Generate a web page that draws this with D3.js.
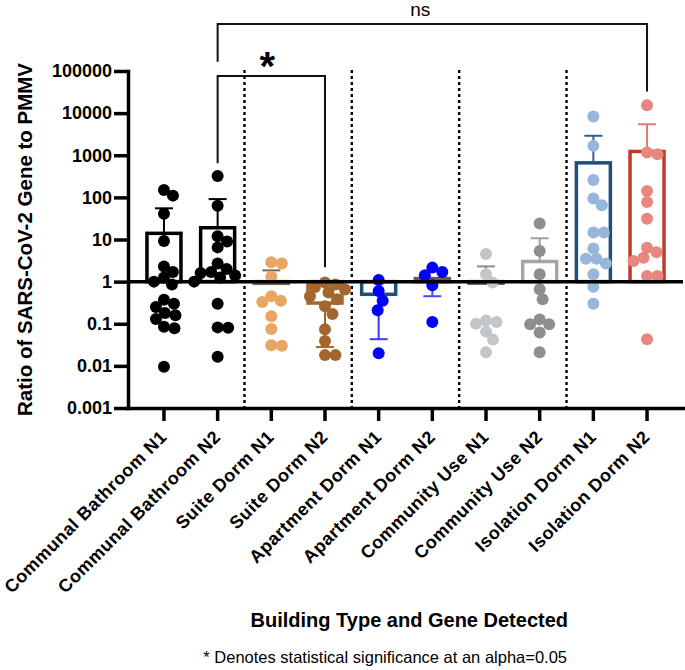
<!DOCTYPE html>
<html><head><meta charset="utf-8">
<script src="https://cdn.jsdelivr.net/npm/d3@7"></script>
<style>body{margin:0;background:#fff}svg{display:block}</style>
</head><body>
<svg id="chart" width="685" height="670"></svg>
<script>
const categories = ["Communal Bathroom N1","Communal Bathroom N2","Suite Dorm N1","Suite Dorm N2","Apartment Dorm N1","Apartment Dorm N2","Community Use N1","Community Use N2","Isolation Dorm N1","Isolation Dorm N2"];

const communalN1 = [150, 110, 41, 9.2, 2.3, 1.7, 1.25, 1.0, 0.85, 0.37, 0.3, 0.25, 0.18, 0.16, 0.13, 0.085, 0.078, 0.0095];
const communalN2 = [320, 63, 12, 9, 6.5, 2.7, 2.0, 1.7, 1.6, 1.4, 1.25, 1.0, 0.3, 0.082, 0.08, 0.0165];
const suiteN1 = [2.9, 2.7, 1.3, 0.45, 0.35, 0.33, 0.15, 0.075, 0.031, 0.03];
const suiteN2 = [0.95, 0.85, 0.75, 0.65, 0.55, 0.45, 0.38, 0.26, 0.17, 0.074, 0.039, 0.018, 0.018];
const apartmentN1 = [1.09, 0.6, 0.35, 0.21, 0.02];
const apartmentN2 = [2.15, 1.69, 1.41, 0.82, 0.11];
const communityN1 = [4.5, 1.5, 0.95, 0.12, 0.11, 0.1, 0.065, 0.042, 0.021];
const communityN2 = [24, 5.3, 1.5, 0.66, 0.38, 0.127, 0.097, 0.097, 0.062, 0.021];
const isolationN1 = [8300, 1670, 260, 94, 65, 14.6, 14.6, 6.1, 3.5, 3.5, 2.7, 1.5, 0.76, 0.3];
const isolationN2 = [15400, 1160, 1060, 142, 78, 31, 6.4, 5.0, 3.7, 3.1, 1.36, 1.36, 0.043];

const pointValues = [communalN1, communalN2, suiteN1, suiteN2, apartmentN1, apartmentN2, communityN1, communityN2, isolationN1, isolationN2];
const barMeans = [14, 19, 0.91, 0.31, 0.5, 1.18, 0.92, 3.0, 660, 1230];
const errorEnds = [55, 91, 1.85, 0.028, 0.043, 0.45, 2.3, 10.7, 2900, 5450];

const yTickValues = [0.001, 0.01, 0.1, 1, 10, 100, 1000, 10000, 100000];
const yTickLabels = ["0.001","0.01","0.1","1","10","100","1000","10000","100000"];

const pointColors = ["#000000","#000000","#e9a562","#a3672e","#0000ff","#0000ff","#c3c6c8","#8e8e8e","#98b5da","#e8867f"];
const barColors = ["#000000","#000000","#7d6650","#a3672e","#1f4e79","#6b5a45","#5e5448","#a6a6a6","#1f4e79","#c0392b"];
const errColors = ["#000000","#000000","#7d6650","#a3672e","#3a3af0","#4a4af5","#8c8c8c","#a0a0a0","#2f5f8f","#e07c76"];

// significance comparisons (in data units for the y levels)
const brackets = [
  {from: "Communal Bathroom N2", to: "Isolation Dorm N2", label: "ns", level: 1.3e6, leftEnd: 166000, rightEnd: 32500},
  {from: "Communal Bathroom N2", to: "Suite Dorm N2", label: "*", level: 76000, leftEnd: 650, rightEnd: 2.2}
];

const font = "'Liberation Sans', Arial, Helvetica, sans-serif";
const svg = d3.select("#chart");

const x = d3.scaleBand().domain(categories).range([128, 683]).paddingInner(0).paddingOuter(0.17);
const y = d3.scaleLog().domain([0.001, 100000]).range([408, 71]);
const cx = c => x(c) + x.bandwidth() / 2;

// separators
[1, 3, 5, 7].forEach(i => {
  const xs = x(categories[i]) + x.bandwidth();
  svg.append("line").attr("x1", xs).attr("x2", xs).attr("y1", y(100000) - 1).attr("y2", 408)
    .attr("stroke", "#000").attr("stroke-width", 2.4).attr("stroke-dasharray", "3,3");
});

// bars
const barW = 34;
categories.forEach((c, i) => {
  const y0 = y(1), y1 = y(barMeans[i]);
  svg.append("rect").attr("x", cx(c) - barW / 2).attr("y", Math.min(y0, y1))
    .attr("width", barW).attr("height", Math.abs(y1 - y0))
    .attr("fill", "none").attr("stroke", barColors[i]).attr("stroke-width", 3.5);
});

// error bars
categories.forEach((c, i) => {
  const g = svg.append("g").attr("stroke", errColors[i]).attr("stroke-width", 2);
  g.append("line").attr("x1", cx(c)).attr("x2", cx(c)).attr("y1", y(barMeans[i])).attr("y2", y(errorEnds[i]));
  g.append("line").attr("x1", cx(c) - 9).attr("x2", cx(c) + 9).attr("y1", y(errorEnds[i])).attr("y2", y(errorEnds[i]));
});

// points (beeswarm layout)
function swarm(values, center) {
  const minD = 10.5, placed = [];
  const pts = values.map(v => ({v, py: y(v)})).sort((a, b) => a.py - b.py);
  pts.forEach(p => {
    for (let o = 0; o < 80; o += 0.5) {
      const cands = o === 0 ? [0] : [o, -o];
      let found = null;
      for (const c of cands) {
        if (placed.every(q => Math.hypot(q.px - (center + c), q.py - p.py) >= minD)) { found = c; break; }
      }
      if (found !== null) { p.px = center + found; break; }
    }
    placed.push(p);
  });
  return placed;
}
categories.forEach((c, i) => {
  svg.append("g").selectAll("circle").data(swarm(pointValues[i], cx(c))).join("circle")
    .attr("cx", d => d.px).attr("cy", d => d.py).attr("r", 6).attr("fill", pointColors[i]);
});

// baseline at 1
svg.append("line").attr("x1", 128).attr("x2", 683).attr("y1", y(1)).attr("y2", y(1))
  .attr("stroke", "#000").attr("stroke-width", 3.5);

// axes
const gy = svg.append("g").attr("transform", "translate(128,0)")
  .call(d3.axisLeft(y).tickValues(yTickValues).tickFormat((d, i) => yTickLabels[i]).tickSize(14).tickSizeOuter(0).tickPadding(2));
gy.select(".domain").attr("stroke", "#000").attr("stroke-width", 3.5).attr("stroke-linecap", "square");
gy.selectAll(".tick line").attr("stroke", "#000").attr("stroke-width", 3.5);
gy.selectAll(".tick text").attr("fill", "#000").style("font-family", font).style("font-weight", "bold").style("font-size", "18px");

const gx = svg.append("g").attr("transform", "translate(0,408)")
  .call(d3.axisBottom(x).tickSize(13).tickSizeOuter(0));
gx.select(".domain").attr("stroke", "#000").attr("stroke-width", 3.5).attr("stroke-linecap", "square");
gx.selectAll(".tick line").attr("stroke", "#000").attr("stroke-width", 3.5);
gx.selectAll(".tick text").attr("x", 0).attr("y", 0).attr("dy", 0)
  .attr("transform", "translate(4,30) rotate(-45)").attr("text-anchor", "end").attr("fill", "#000")
  .style("font-family", font).style("font-weight", "bold").style("font-size", "18px").style("letter-spacing", "0.5px");

// brackets
brackets.forEach(b => {
  const xa = cx(b.from), xb = cx(b.to), yl = y(b.level);
  svg.append("path").attr("d", `M${xa},${y(b.leftEnd)}V${yl}H${xb}V${y(b.rightEnd)}`)
    .attr("fill", "none").attr("stroke", "#111").attr("stroke-width", 2);
  const mid = (xa + xb) / 2;
  if (b.label === "*") {
    svg.append("text").attr("x", mid - 4).attr("y", yl + 4).attr("text-anchor", "middle")
      .style("font-family", font).style("font-weight", "bold").style("font-size", "40px").text(b.label);
  } else {
    svg.append("text").attr("x", mid - 12).attr("y", yl - 8).attr("text-anchor", "middle")
      .style("font-family", font).style("font-size", "19px").text(b.label);
  }
});

// titles
svg.append("text").attr("transform", `translate(32,${(y(100000) + y(0.001)) / 2}) rotate(-90)`)
  .attr("text-anchor", "middle").style("font-family", font).style("font-weight", "bold").style("font-size", "20.5px")
  .text("Ratio of SARS-CoV-2 Gene to PMMV");
svg.append("text").attr("x", 568).attr("y", 627).attr("text-anchor", "end")
  .style("font-family", font).style("font-weight", "bold").style("font-size", "20px")
  .text("Building Type and Gene Detected");
svg.append("text").attr("x", 567).attr("y", 663).attr("text-anchor", "end")
  .style("font-family", font).style("font-size", "16.5px")
  .text("* Denotes statistical significance at an alpha=0.05");
</script>
</body></html>
